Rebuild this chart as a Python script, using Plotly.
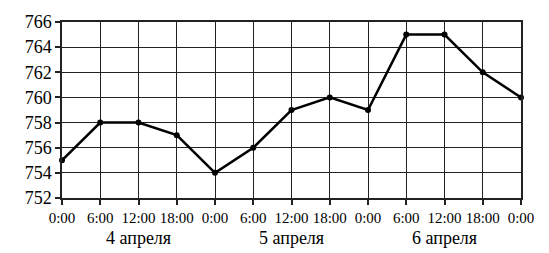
import plotly.graph_objects as go

hours = list(range(13))
tick_labels = ["0:00", "6:00", "12:00", "18:00", "0:00", "6:00", "12:00", "18:00",
               "0:00", "6:00", "12:00", "18:00", "0:00"]
pressure = [755, 758, 758, 757, 754, 756, 759, 760, 759, 765, 765, 762, 760]
day_labels = ["4 апреля", "5 апреля", "6 апреля"]
day_pos = [2, 6, 10]
y_ticks = [752, 754, 756, 758, 760, 762, 764, 766]

SERIF = "Times New Roman"

fig = go.Figure()
fig.add_trace(go.Scatter(
    x=hours, y=pressure, mode="lines+markers",
    line=dict(color="black", width=2.5),
    marker=dict(color="black", size=6),
    showlegend=False, cliponaxis=False,
))

for d, p in zip(day_labels, day_pos):
    fig.add_annotation(x=p, y=0, xref="x", yref="paper", text=d, showarrow=False,
                       yshift=-28, yanchor="top",
                       font=dict(family=SERIF, size=18, color="black"))

fig.update_layout(
    width=549, height=253,
    margin=dict(l=62, r=28, t=20, b=55),
    paper_bgcolor="white", plot_bgcolor="white",
    font=dict(family=SERIF, color="black"),
)
fig.update_xaxes(
    range=[0, 12], tickvals=hours, ticktext=tick_labels, tickangle=0,
    tickfont=dict(size=15, family=SERIF, color="black"),
    showgrid=True, gridcolor="#222", gridwidth=1.3,
    showline=True, linecolor="#222", linewidth=1.5, mirror=True,
    ticks="outside", ticklen=5, tickcolor="#222", tickwidth=1.5,
    zeroline=False, fixedrange=True,
)
fig.update_yaxes(
    range=[752, 766], tickvals=y_ticks,
    tickfont=dict(size=18, family=SERIF, color="black"),
    showgrid=True, gridcolor="#222", gridwidth=1.3,
    showline=True, linecolor="#222", linewidth=1.5, mirror=True,
    ticks="outside", ticklen=5, tickcolor="#222", tickwidth=1.5,
    zeroline=False, fixedrange=True,
)

fig.write_html("out.html")
